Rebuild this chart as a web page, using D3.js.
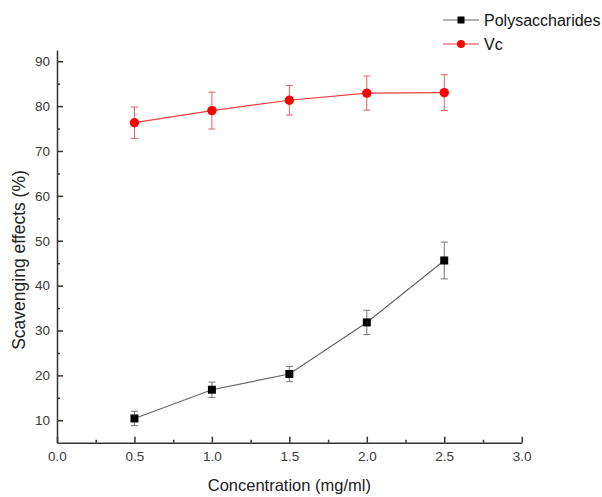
<!DOCTYPE html>
<html>
<head>
<meta charset="utf-8">
<style>
  body { margin: 0; background: #fff; }
  svg { display: block; font-family: "Liberation Sans", Arial, sans-serif; }
</style>
</head>
<body>
<script src="https://d3js.org/d3.v7.min.js"></script>
<script>
  // data
  var concentrations = [0.5, 1.0, 1.5, 2.0, 2.5];
  var polyValues = [10.4, 16.8, 20.3, 31.8, 45.6];
  var polyErrors = [1.6, 1.7, 1.7, 2.7, 4.1];
  var vcValues = [76.3, 79.0, 81.3, 82.9, 83.0];
  var vcErrors = [3.5, 4.1, 3.3, 3.8, 4.0];
  var xTicks = [0, 0.5, 1.0, 1.5, 2.0, 2.5, 3.0];
  var yTicks = [10, 20, 30, 40, 50, 60, 70, 80, 90];

  var width = 602, height = 497;

  var svg = d3.select("body")
    .append("svg")
    .attr("width", width)
    .attr("height", height);

  var x = d3.scaleLinear().domain([0, 3]).range([57, 521.7]);
  var y = d3.scaleLinear().domain([5, 92.5]).range([442.7, 50]);

  // minor ticks
  svg.append("g")
    .attr("transform", "translate(0,442.7)")
    .call(d3.axisBottom(x).tickValues([0.25, 0.75, 1.25, 1.75, 2.25, 2.75]).tickSize(-3).tickSizeOuter(0).tickFormat(""))
    .call(g => g.select(".domain").remove());
  svg.append("g")
    .attr("transform", "translate(57,0)")
    .call(d3.axisLeft(y).tickValues([15, 25, 35, 45, 55, 65, 75, 85]).tickSize(-3).tickSizeOuter(0).tickFormat(""))
    .call(g => g.select(".domain").remove());

  // main axes
  svg.append("g")
    .attr("transform", "translate(0,442.7)")
    .call(d3.axisBottom(x).tickValues(xTicks).tickSize(-6).tickSizeOuter(0).tickPadding(9).tickFormat(d3.format(".1f")));
  svg.append("g")
    .attr("transform", "translate(57,0)")
    .call(d3.axisLeft(y).tickValues(yTicks).tickSize(-6).tickSizeOuter(0).tickPadding(7));

  svg.selectAll(".domain, .tick line")
    .attr("stroke", "#333")
    .attr("stroke-width", 1.5);
  svg.selectAll(".tick text")
    .attr("fill", "#3a3a3a")
    .style("font-size", "13.5px")
    .style("font-family", "'Liberation Sans', Arial, sans-serif");

  // axis titles
  svg.append("text")
    .attr("x", x(1.5))
    .attr("y", 491)
    .attr("text-anchor", "middle")
    .attr("fill", "#222")
    .style("font-size", "16.5px")
    .text("Concentration (mg/ml)");
  svg.append("text")
    .attr("transform", "translate(24.5,260) rotate(-90)")
    .attr("text-anchor", "middle")
    .attr("fill", "#222")
    .style("font-size", "17.5px")
    .text("Scavenging effects (%)");

  var series = [
    { name: "Polysaccharides", values: polyValues, errors: polyErrors, color: "#000", lineColor: "#666", shape: "square" },
    { name: "Vc", values: vcValues, errors: vcErrors, color: "#f00", lineColor: "#f04040", shape: "circle" }
  ];

  var line = d3.line()
    .x(d => x(d.c))
    .y(d => y(d.v));

  series.forEach(function(s) {
    var pts = concentrations.map((c, i) => ({ c: c, v: s.values[i], e: s.errors[i] }));
    var g = svg.append("g");

    g.append("path")
      .datum(pts)
      .attr("fill", "none")
      .attr("stroke", s.lineColor)
      .attr("stroke-width", 1.2)
      .attr("d", line);

    var errColor = s.shape === "square" ? "#777" : "#e06060";
    g.selectAll(".err")
      .data(pts)
      .enter()
      .append("path")
      .attr("fill", "none")
      .attr("stroke", errColor)
      .attr("stroke-width", 1)
      .attr("d", d => {
        var cx = x(d.c), t = y(d.v + d.e), b = y(d.v - d.e);
        return "M" + (cx - 3.5) + "," + t + "H" + (cx + 3.5) +
               "M" + cx + "," + t + "V" + b +
               "M" + (cx - 3.5) + "," + b + "H" + (cx + 3.5);
      });

    if (s.shape === "square") {
      g.selectAll("rect")
        .data(pts)
        .enter()
        .append("rect")
        .attr("x", d => x(d.c) - 4)
        .attr("y", d => y(d.v) - 4)
        .attr("width", 8)
        .attr("height", 8)
        .attr("fill", s.color);
    } else {
      g.selectAll("circle")
        .data(pts)
        .enter()
        .append("circle")
        .attr("cx", d => x(d.c))
        .attr("cy", d => y(d.v))
        .attr("r", 4.7)
        .attr("fill", s.color);
    }
  });

  // legend
  var legend = svg.append("g");
  series.forEach(function(s, i) {
    var ly = 20 + i * 24;
    legend.append("line")
      .attr("x1", 443).attr("x2", 479)
      .attr("y1", ly).attr("y2", ly)
      .attr("stroke", s.lineColor)
      .attr("stroke-width", 1.2);
    if (s.shape === "square") {
      legend.append("rect")
        .attr("x", 461 - 3.5).attr("y", ly - 3.5)
        .attr("width", 7).attr("height", 7)
        .attr("fill", s.color);
    } else {
      legend.append("circle")
        .attr("cx", 461).attr("cy", ly)
        .attr("r", 4)
        .attr("fill", s.color);
    }
    legend.append("text")
      .attr("x", 484)
      .attr("y", ly + 6)
      .attr("fill", "#111")
      .style("font-size", "16px")
      .text(s.name);
  });
</script>
</body>
</html>
